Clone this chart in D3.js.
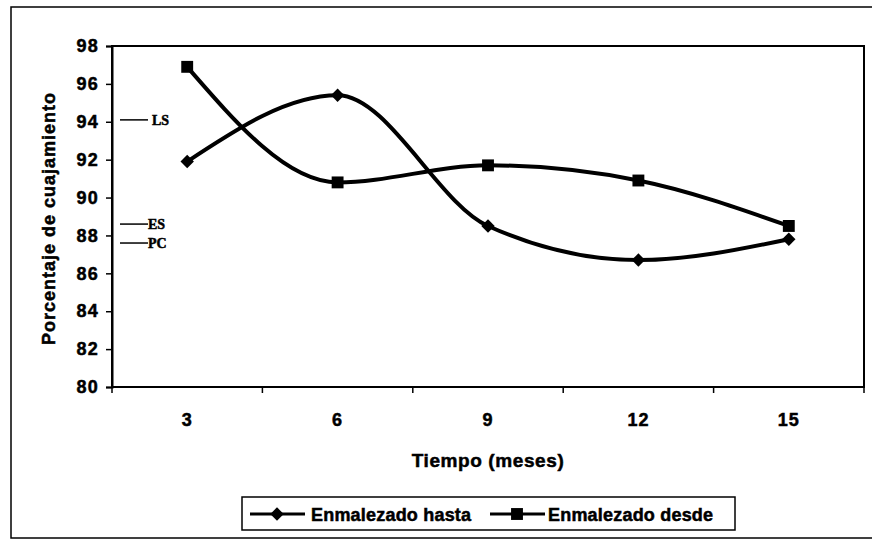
<!DOCTYPE html>
<html>
<head>
<meta charset="utf-8">
<script src="https://cdn.jsdelivr.net/npm/d3@7"></script>
<style>
  body { margin: 0; background: #fff; }
  svg { display: block; }
  text { font-family: "Liberation Sans", Arial, sans-serif; font-weight: bold; fill: #000; stroke: #000; stroke-width: 0.5px; }
</style>
</head>
<body>
<div id="chart"></div>
<script>
// data
let meses = ["3", "6", "9", "12", "15"]
let hasta = [91.9, 95.4, 88.5, 86.7, 87.8]
let desde = [96.9, 90.8, 91.7, 90.9, 88.5]
let yTicks = [80, 82, 84, 86, 88, 90, 92, 94, 96, 98]
let refNames = ["LS", "ES", "PC"]
let refValues = [94.1, 88.6, 87.6]
let seriesNames = ["Enmalezado hasta", "Enmalezado desde"]

var W = 872, H = 540
var svg = d3.select("#chart").append("svg")
    .attr("width", W)
    .attr("height", H)

// outer chart frame (right side runs off the page)
svg.append("rect")
    .attr("x", 11).attr("y", 7)
    .attr("width", 872).attr("height", 531)
    .attr("fill", "none").attr("stroke", "#000").attr("stroke-width", 1.5)

var pLeft = 112, pRight = 864, pTop = 46, pBottom = 387

var x = d3.scaleBand().domain(meses).range([pLeft, pRight])
var y = d3.scaleLinear().domain([80, 98]).range([pBottom, pTop])

// plot area box
svg.append("rect")
    .attr("x", pLeft).attr("y", pTop)
    .attr("width", pRight - pLeft).attr("height", pBottom - pTop)
    .attr("fill", "none").attr("stroke", "#000").attr("stroke-width", 2)

var yAxis = svg.append("g")
    .attr("transform", "translate(" + pLeft + ",0)")
    .call(d3.axisLeft(y).tickValues(yTicks).tickSize(6).tickPadding(7))
yAxis.select(".domain").attr("stroke-width", 2)
yAxis.selectAll("line").attr("stroke-width", 1.5)
yAxis.selectAll("text")
    .style("font-size", "18px")
    .style("letter-spacing", "1.2px")

// category boundary ticks on the x axis
var bounds = meses.map(function(d) { return x(d) }).concat([pRight])
svg.selectAll(".xb")
    .data(bounds)
    .enter().append("line")
    .attr("class", "xb")
    .attr("x1", function(d) { return d }).attr("x2", function(d) { return d })
    .attr("y1", pBottom).attr("y2", pBottom + 6)
    .attr("stroke", "#000").attr("stroke-width", 1.5)

svg.selectAll(".xl")
    .data(meses)
    .enter().append("text")
    .attr("class", "xl")
    .attr("x", function(d) { return x(d) + x.bandwidth() / 2 })
    .attr("y", 426)
    .attr("text-anchor", "middle")
    .style("font-size", "18px")
    .style("letter-spacing", "1px")
    .text(function(d) { return d })

svg.append("text")
    .attr("x", (pLeft + pRight) / 2)
    .attr("y", 467)
    .attr("text-anchor", "middle")
    .style("font-size", "19px")
    .style("letter-spacing", "0.6px")
    .text("Tiempo (meses)")

svg.append("text")
    .attr("transform", "translate(55," + ((pTop + pBottom) / 2 + 2) + ") rotate(-90)")
    .attr("text-anchor", "middle")
    .style("font-size", "18px")
    .style("letter-spacing", "1px")
    .text("Porcentaje de cuajamiento")

// reference marks LS / ES / PC
svg.selectAll(".refl")
    .data(refValues)
    .enter().append("line")
    .attr("class", "refl")
    .attr("x1", 120).attr("x2", 148)
    .attr("y1", function(d) { return y(d) }).attr("y2", function(d) { return y(d) })
    .attr("stroke", "#000").attr("stroke-width", 1.5)
svg.selectAll(".reft")
    .data(refNames)
    .enter().append("text")
    .attr("class", "reft")
    .attr("x", function(d, i) { return i == 0 ? 152 : 148 })
    .attr("y", function(d, i) { return y(refValues[i]) + 5 })
    .style("font-family", "'Liberation Serif', 'Times New Roman', serif")
    .style("font-size", "14px")
    .text(function(d) { return d })

var line = d3.line()
    .x(function(d, i) { return x(meses[i]) + x.bandwidth() / 2 })
    .y(function(d) { return y(d) })
    .curve(d3.curveMonotoneX)

var diamond = d3.symbol().type(d3.symbolDiamond2).size(115)
var square = d3.symbol().type(d3.symbolSquare2).size(180)

svg.append("path")
    .datum(hasta)
    .attr("d", line)
    .attr("fill", "none").attr("stroke", "#000").attr("stroke-width", 4)
svg.append("path")
    .datum(desde)
    .attr("d", line)
    .attr("fill", "none").attr("stroke", "#000").attr("stroke-width", 4)

svg.selectAll(".dia")
    .data(hasta)
    .enter().append("path")
    .attr("class", "dia")
    .attr("d", diamond)
    .attr("transform", function(d, i) { return "translate(" + (x(meses[i]) + x.bandwidth() / 2) + "," + y(d) + ")" })
    .attr("fill", "#000")
svg.selectAll(".sq")
    .data(desde)
    .enter().append("path")
    .attr("class", "sq")
    .attr("d", square)
    .attr("transform", function(d, i) { return "translate(" + (x(meses[i]) + x.bandwidth() / 2) + "," + y(d) + ")" })
    .attr("fill", "#000")

// legend
var lg = svg.append("g")
lg.append("rect")
    .attr("x", 242).attr("y", 497)
    .attr("width", 493).attr("height", 33)
    .attr("fill", "#fff").attr("stroke", "#000").attr("stroke-width", 1.5)

var legX = [250, 490]
var legText = [311, 548]
seriesNames.forEach(function(name, i) {
    lg.append("line")
        .attr("x1", legX[i]).attr("x2", legX[i] + 55)
        .attr("y1", 514).attr("y2", 514)
        .attr("stroke", "#000").attr("stroke-width", 3)
    lg.append("path")
        .attr("d", i == 0 ? diamond : square)
        .attr("transform", "translate(" + (legX[i] + 27) + ",514)")
        .attr("fill", "#000")
    lg.append("text")
        .attr("x", legText[i]).attr("y", 521)
        .style("font-size", "18px")
        .style("letter-spacing", "0.2px")
        .text(name)
})
</script>
</body>
</html>
